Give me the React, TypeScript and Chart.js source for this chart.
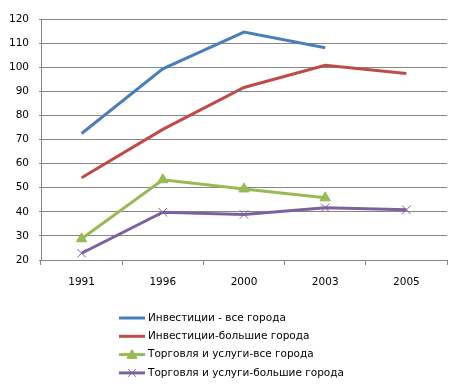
import React, { useEffect, useRef } from "react";
import { Chart, registerables } from "chart.js";

Chart.register(...registerables);

const years = ["1991", "1996", "2000", "2003", "2005"];
const investAll = [72.5, 99.3, 114.6, 108.1, null];
const investBig = [54.1, 74.2, 91.6, 100.8, 97.4];
const tradeAll = [28.8, 53.3, 49.5, 45.8, null];
const tradeBig = [22.8, 39.8, 38.9, 41.7, 40.8];
const seriesNames = [
  "Инвестиции - все города",
  "Инвестиции-большие города",
  "Торговля и услуги-все города",
  "Торговля и услуги-большие города",
];

const FONT = "DejaVu Sans";
const FONT_SIZE = 10.5;

function drawPoint(ctx: CanvasRenderingContext2D, style: string, r: number, x: number, y: number) {
  ctx.beginPath();
  if (style === "triangle") {
    ctx.moveTo(x, y - r);
    ctx.lineTo(x + r, y + r * 0.75);
    ctx.lineTo(x - r, y + r * 0.75);
    ctx.closePath();
    ctx.fill();
    ctx.stroke();
  } else if (style === "crossRot") {
    const d = r * 0.8;
    ctx.moveTo(x - d, y - d);
    ctx.lineTo(x + d, y + d);
    ctx.moveTo(x + d, y - d);
    ctx.lineTo(x - d, y + d);
    ctx.stroke();
  }
}

const listLegend = {
  id: "listLegend",
  afterDraw(chart: any) {
    const ctx = chart.ctx;
    const x0 = 119;
    const lineW = 26;
    const y0 = 318;
    const step = 18.3;
    ctx.save();
    chart.data.datasets.forEach((ds: any, i: number) => {
      const y = y0 + i * step;
      ctx.strokeStyle = ds.borderColor;
      ctx.lineWidth = 3;
      ctx.beginPath();
      ctx.moveTo(x0, y);
      ctx.lineTo(x0 + lineW, y);
      ctx.stroke();
      if (ds.pointStyle && ds.pointRadius > 0) {
        ctx.fillStyle = ds.pointBackgroundColor;
        ctx.strokeStyle = ds.pointBorderColor;
        ctx.lineWidth = ds.pointBorderWidth;
        drawPoint(ctx, ds.pointStyle, ds.pointRadius - 1, x0 + lineW / 2, y);
      }
      ctx.fillStyle = "#000";
      ctx.font = `${FONT_SIZE}px "${FONT}"`;
      ctx.textBaseline = "middle";
      ctx.textAlign = "left";
      ctx.fillText(ds.label, x0 + lineW + 3, y);
    });
    ctx.restore();
  },
};

export default function App() {
  const ref = useRef<HTMLCanvasElement>(null);
  useEffect(() => {
    document.body.style.margin = "0";
    const chart = new Chart(ref.current!, {
      type: "line",
      data: {
        labels: years,
        datasets: [
          {
            label: seriesNames[0],
            data: investAll,
            borderColor: "#4A7EBB",
            backgroundColor: "#4A7EBB",
            borderWidth: 3,
            pointRadius: 0,
            pointStyle: false as any,
            tension: 0,
          },
          {
            label: seriesNames[1],
            data: investBig,
            borderColor: "#BE4B48",
            backgroundColor: "#BE4B48",
            borderWidth: 3,
            pointRadius: 0,
            pointStyle: false as any,
            tension: 0,
          },
          {
            label: seriesNames[2],
            data: tradeAll,
            borderColor: "#98B954",
            backgroundColor: "#98B954",
            pointBackgroundColor: "#98B954",
            pointBorderColor: "#98B954",
            pointBorderWidth: 1,
            borderWidth: 3,
            pointStyle: "triangle",
            pointRadius: 6,
            tension: 0,
          },
          {
            label: seriesNames[3],
            data: tradeBig,
            borderColor: "#7D60A0",
            backgroundColor: "#7D60A0",
            pointBackgroundColor: "#7D60A0",
            pointBorderColor: "#7D60A0",
            pointBorderWidth: 1,
            borderWidth: 3,
            pointStyle: "crossRot",
            pointRadius: 6,
            tension: 0,
          },
        ],
      },
      options: {
        animation: false,
        responsive: false,
        layout: { padding: { left: 0, right: 23, top: 19, bottom: 92 } },
        plugins: {
          legend: { display: false },
          tooltip: { enabled: false },
        },
        scales: {
          x: {
            offset: true,
            grid: {
              offset: true,
              drawOnChartArea: false,
              drawTicks: true,
              tickLength: 5,
              color: "#868686",
            },
            border: { color: "#868686", width: 1 },
            ticks: {
              color: "#000",
              font: { family: FONT, size: FONT_SIZE },
              padding: 11,
              maxRotation: 0,
            },
            afterFit: (s: any) => {
              s.height = 40;
            },
          },
          y: {
            min: 20,
            max: 120,
            ticks: {
              stepSize: 10,
              color: "#000",
              font: { family: FONT, size: FONT_SIZE },
              padding: 10,
            },
            grid: { color: "#868686", drawTicks: true, tickLength: 2 },
            border: { color: "#868686", width: 1 },
            afterFit: (s: any) => {
              s.width = 41;
            },
          },
        },
      },
      plugins: [listLegend],
    });
    return () => chart.destroy();
  }, []);
  return <canvas ref={ref} width={470} height={392} style={{ display: "block" }} />;
}
